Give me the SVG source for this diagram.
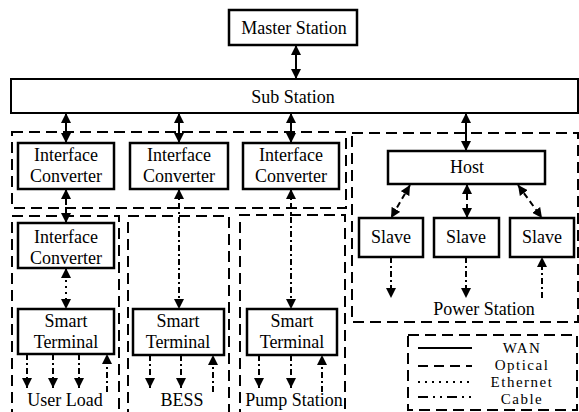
<svg xmlns="http://www.w3.org/2000/svg" width="579" height="412" viewBox="0 0 579 412">
<style>
.box{fill:#fff;stroke:#000;stroke-width:2.5}
.reg{fill:none;stroke:#000;stroke-width:2;stroke-dasharray:11,6}
.t{font-family:'Liberation Serif','Times New Roman','DejaVu Serif',serif;font-size:18px;fill:#000;text-anchor:middle}
.lt{font-size:15px;letter-spacing:1.5px}
.c{fill:none;stroke:#000;stroke-width:2}
.opt{stroke-dasharray:6,4}
.eth{stroke-dasharray:2,4}
.cab{stroke-dasharray:6,3,2,3}
.lopt{stroke-dasharray:10,6}
.leth{stroke-dasharray:2,5}
.lcab{stroke-dasharray:10,5,2,5,2,5}
</style>
<defs>
<marker id="ah" viewBox="0 0 10 10" refX="10" refY="5" markerWidth="10" markerHeight="10" markerUnits="userSpaceOnUse" orient="auto-start-reverse">
<path d="M0,0 L10,5 L0,10 Z" fill="#000"/>
</marker>
</defs>

<g id="regions">
<rect class="reg" x="12" y="132" width="334" height="76"/>
<path class="reg" d="M12,420 V216 H119 V420"/>
<path class="reg" d="M128,420 V216 H229 V420"/>
<path class="reg" d="M240,420 V215 H345 V420"/>
<rect class="reg" x="352" y="133" width="226" height="189"/>
</g>

<g id="master"><rect class="box" x="229" y="10" width="128" height="35" stroke-width="3"/><text class="t" x="294" y="34">Master Station</text></g>
<g id="sub"><rect class="box" x="11" y="79" width="567" height="34" style="stroke-width:2"/><text class="t" x="293" y="103">Sub Station</text></g>

<g id="ic1"><rect class="box" x="18" y="143" width="96" height="46"/><text class="t" x="66" y="161">Interface</text><text class="t" x="66" y="182">Converter</text></g>
<g id="ic2"><rect class="box" x="130" y="143" width="98" height="46"/><text class="t" x="179" y="161">Interface</text><text class="t" x="179" y="182">Converter</text></g>
<g id="ic3"><rect class="box" x="243" y="143" width="96" height="46"/><text class="t" x="291" y="161">Interface</text><text class="t" x="291" y="182">Converter</text></g>
<g id="ic4"><rect class="box" x="18" y="223" width="96" height="45"/><text class="t" x="66" y="243">Interface</text><text class="t" x="66" y="264">Converter</text></g>

<g id="st1"><rect class="box" x="18" y="309" width="96" height="45"/><text class="t" x="66" y="327">Smart</text><text class="t" x="66" y="348">Terminal</text></g>
<g id="st2"><rect class="box" x="133" y="309" width="91" height="46"/><text class="t" x="178" y="327">Smart</text><text class="t" x="178" y="348">Terminal</text></g>
<g id="st3"><rect class="box" x="247" y="309" width="90" height="46"/><text class="t" x="292" y="327">Smart</text><text class="t" x="292" y="348">Terminal</text></g>

<g id="host"><rect class="box" x="388" y="151" width="157" height="33"/><text class="t" x="467" y="173">Host</text></g>
<g id="slave1"><rect class="box" x="359" y="218" width="64" height="39"/><text class="t" x="391" y="243">Slave</text></g>
<g id="slave2"><rect class="box" x="434" y="218" width="65" height="39"/><text class="t" x="466" y="243">Slave</text></g>
<g id="slave3"><rect class="box" x="510" y="218" width="64" height="39"/><text class="t" x="542" y="243">Slave</text></g>

<g id="labels">
<text class="t" x="65" y="406">User Load</text>
<text class="t" x="182" y="406">BESS</text>
<text class="t" x="294" y="406">Pump Station</text>
<text class="t" x="484" y="315">Power Station</text>
</g>

<g id="connectors">
<line class="c" x1="296" y1="45" x2="296" y2="79" marker-start="url(#ah)" marker-end="url(#ah)"/>
<line class="c" x1="66" y1="113" x2="66" y2="143" marker-start="url(#ah)" marker-end="url(#ah)"/>
<line class="c" x1="179" y1="113" x2="179" y2="143" marker-start="url(#ah)" marker-end="url(#ah)"/>
<line class="c" x1="291" y1="113" x2="291" y2="143" marker-start="url(#ah)" marker-end="url(#ah)"/>
<line class="c" x1="466" y1="113" x2="466" y2="151" marker-start="url(#ah)" marker-end="url(#ah)"/>
<line class="c opt" x1="66" y1="189" x2="66" y2="223" marker-start="url(#ah)" marker-end="url(#ah)"/>
<line class="c eth" x1="66" y1="268" x2="66" y2="309" marker-start="url(#ah)" marker-end="url(#ah)"/>
<line class="c cab" x1="179" y1="189" x2="179" y2="309" marker-start="url(#ah)" marker-end="url(#ah)"/>
<line class="c cab" x1="291" y1="189" x2="291" y2="309" marker-start="url(#ah)" marker-end="url(#ah)"/>
<line class="c opt" x1="410" y1="185" x2="391" y2="218" marker-start="url(#ah)" marker-end="url(#ah)"/>
<line class="c opt" x1="467" y1="184" x2="467" y2="218" marker-start="url(#ah)" marker-end="url(#ah)"/>
<line class="c opt" x1="518" y1="185" x2="542" y2="218" marker-start="url(#ah)" marker-end="url(#ah)"/>
<line class="c cab" x1="391" y1="257" x2="391" y2="298" marker-end="url(#ah)"/>
<line class="c cab" x1="466" y1="257" x2="466" y2="298" marker-end="url(#ah)"/>
<line class="c cab" x1="542" y1="298" x2="542" y2="257" marker-end="url(#ah)"/>
<line class="c cab" x1="27" y1="354" x2="27" y2="388" marker-end="url(#ah)"/>
<line class="c cab" x1="53" y1="354" x2="53" y2="388" marker-end="url(#ah)"/>
<line class="c cab" x1="79" y1="354" x2="79" y2="388" marker-end="url(#ah)"/>
<line class="c cab" x1="107" y1="392" x2="107" y2="354" marker-end="url(#ah)"/>
<line class="c cab" x1="150" y1="355" x2="150" y2="388" marker-end="url(#ah)"/>
<line class="c cab" x1="181" y1="355" x2="181" y2="388" marker-end="url(#ah)"/>
<line class="c cab" x1="213" y1="392" x2="213" y2="355" marker-end="url(#ah)"/>
<line class="c cab" x1="259" y1="355" x2="259" y2="388" marker-end="url(#ah)"/>
<line class="c cab" x1="291" y1="355" x2="291" y2="388" marker-end="url(#ah)"/>
<line class="c cab" x1="322" y1="392" x2="322" y2="355" marker-end="url(#ah)"/>
</g>

<g id="legend">
<rect class="reg" x="408" y="335" width="169" height="75"/>
<line class="c" x1="418" y1="348" x2="472" y2="348"/>
<line class="c lopt" x1="418" y1="366" x2="472" y2="366"/>
<line class="c leth" x1="418" y1="382" x2="472" y2="382"/>
<line class="c lcab" x1="418" y1="397" x2="472" y2="397"/>
<text class="t lt" x="522" y="353">WAN</text>
<text class="t lt" x="522" y="370">Optical</text>
<text class="t lt" x="522" y="387">Ethernet</text>
<text class="t lt" x="522" y="404">Cable</text>
</g>
</svg>
